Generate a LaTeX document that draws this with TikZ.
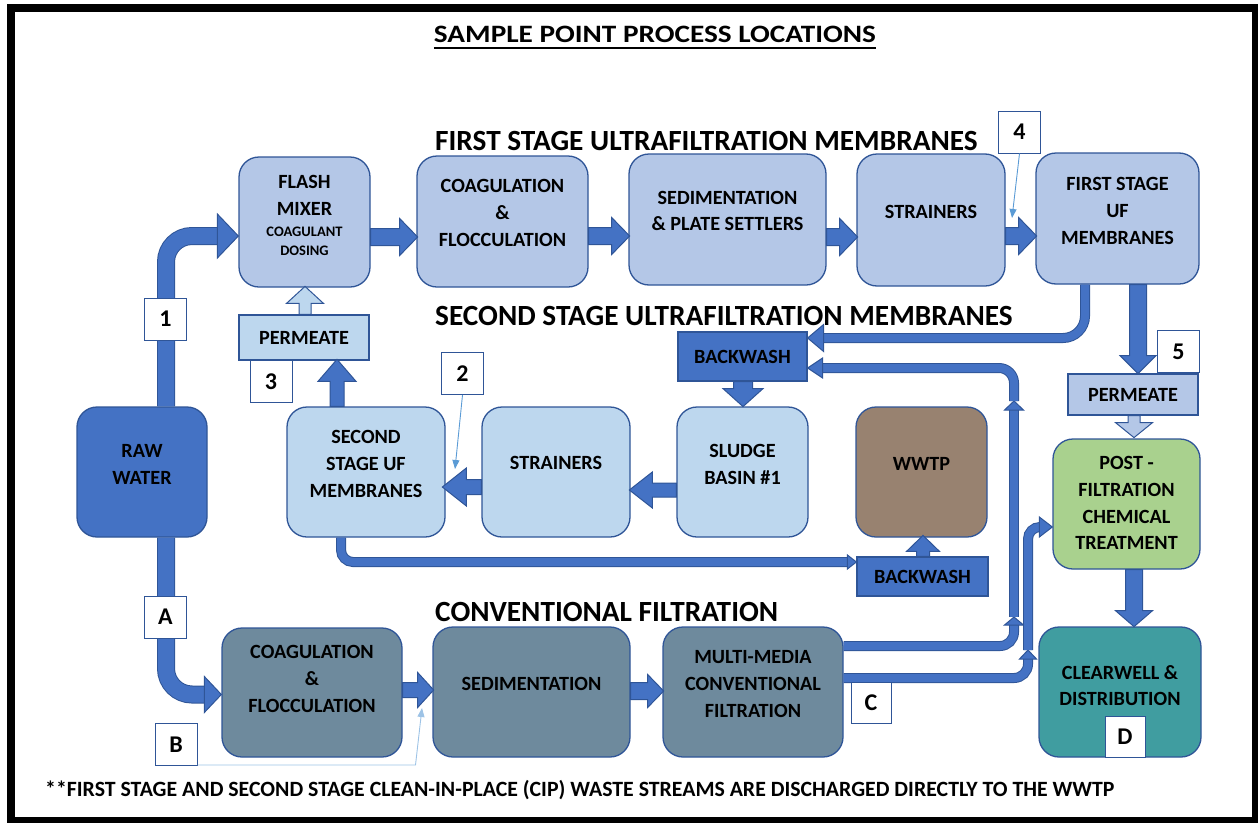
\documentclass[tikz,border=0pt]{standalone}
\usepackage{fontspec}
\setmainfont{Carlito}
\usetikzlibrary{arrows.meta}

\definecolor{edge}{HTML}{2F5597}
\definecolor{flow}{HTML}{4472C4}
\definecolor{ufone}{HTML}{B4C7E7}
\definecolor{uftwo}{HTML}{BDD7EE}
\definecolor{conv}{HTML}{6E8A9D}
\definecolor{waste}{HTML}{988270}
\definecolor{post}{HTML}{A9D18E}
\definecolor{clear}{HTML}{409DA0}
\definecolor{pointer}{HTML}{5B9BD5}

\tikzset{
  unit/.style={draw=edge, line width=1.3pt, rounded corners=20pt, minimum width=130pt, minimum height=130pt, inner sep=0pt},
  txt/.style={font=\bfseries\fontsize{20.2}{26.8}\selectfont, align=center, inner sep=0pt},
  small/.style={font=\bfseries\fontsize{14.5}{19}\selectfont, align=center, inner sep=0pt},
  head/.style={font=\bfseries\fontsize{29.3}{32}\selectfont, inner sep=0pt},
  tag/.style={draw=edge, line width=1pt, fill=white, minimum width=42pt, minimum height=42pt, inner sep=0pt, font=\bfseries\fontsize{24}{26}\selectfont},
  tank/.style={draw=edge, line width=1.2pt, inner sep=0pt, font=\bfseries\fontsize{20.2}{22}\selectfont},
  pipe/.style={draw=edge, line width=1pt, double=flow, double distance=#1},
  pipe/.default=8pt,
  pointer/.style={draw=pointer, line width=0.9pt, -{Triangle[length=9pt,width=7pt]}},
  blkfill/.style={fill=flow},
  % block arrow from its tail: length/shaft/head width/head length
  pics/blk/.style args={#1/#2/#3/#4}{code={
    \filldraw[draw=edge, line width=1pt, blkfill]
      (0,-#2/2) -- (#1-#4,-#2/2) -- (#1-#4,-#3/2) -- (#1,0) -- (#1-#4,#3/2) -- (#1-#4,#2/2) -- (0,#2/2) -- cycle;}},
  pics/tip/.style args={#1/#2}{code={\filldraw[draw=edge, fill=flow, line width=1pt] (0,0) -- (-#2,-#1/2) -- (-#2,#1/2) -- cycle;}},
}

\begin{document}
\begin{tikzpicture}[x=1pt, y=-1pt]
\useasboundingbox (0,0) rectangle (1258,822);
\draw[line width=8pt] (11,8) rectangle (1256,821);

% headings
\node[head, font=\bfseries\fontsize{25}{28}\selectfont] (title) at (655,34) {\scalebox{1.17}[1]{SAMPLE POINT PROCESS LOCATIONS}};
\draw[line width=2pt] ([yshift=-5.5pt]title.base west) -- ([yshift=-5.5pt]title.base east);
\node[head, anchor=west] (uf1-h) at (435,140.5) {FIRST STAGE ULTRAFILTRATION MEMBRANES};
\node[head, anchor=west] (uf2-h) at (435,315.5) {SECOND STAGE ULTRAFILTRATION MEMBRANES};
\node[head, anchor=west] (conv-h) at (435,612) {CONVENTIONAL FILTRATION};

% process units
\node[unit, fill=flow] (raw) at (142,472) {};
\node[unit, fill=ufone, minimum width=131pt] (fmix) at (304.5,222) {};
\node[unit, fill=ufone, minimum width=171pt, minimum height=131pt] (coag1) at (502.5,221.5) {};
\node[unit, fill=ufone, minimum width=197pt, minimum height=131pt] (sed1) at (727.5,219.5) {};
\node[unit, fill=ufone, minimum width=148pt, minimum height=132pt] (str1) at (931,220) {};
\node[unit, fill=ufone, minimum width=163pt, minimum height=131pt] (uf1) at (1117.5,218.5) {};
\node[unit, fill=uftwo, minimum width=158pt] (uf2) at (366,472) {};
\node[unit, fill=uftwo, minimum width=148pt] (str2) at (556,472) {};
\node[unit, fill=uftwo, minimum width=131pt] (sludge) at (742.5,472) {};
\node[unit, fill=waste, minimum width=131pt] (wwtp) at (921.5,472) {};
\node[unit, fill=post, minimum width=147pt] (post) at (1126.5,504) {};
\node[unit, fill=conv, minimum width=180pt, minimum height=129pt] (coag2) at (312,692.5) {};
\node[unit, fill=conv, minimum width=197pt] (sed2) at (531.5,692) {};
\node[unit, fill=conv, minimum width=180pt] (mmf) at (753,692) {};
\node[unit, fill=clear, minimum width=162pt] (clear) at (1120,692) {};

\node[txt] (raw-l) at ([yshift=7.5pt]raw.center) {RAW\\WATER};
\node[txt] (fmix-l) at ([yshift=27pt]fmix.center) {FLASH\\MIXER};
\node[small] (fmix-s) at ([yshift=-19.5pt]fmix.center) {COAGULANT\\DOSING};
\node[txt] (coag1-l) at ([yshift=8.5pt]coag1.center) {COAGULATION\\\&\\FLOCCULATION};
\node[txt] (sed1-l) at ([yshift=8.5pt]sed1.center) {SEDIMENTATION\\\& PLATE SETTLERS};
\node[txt] (str1-l) at ([yshift=8pt]str1.center) {STRAINERS};
\node[txt] (uf1-l) at ([yshift=7.5pt]uf1.center) {FIRST STAGE\\UF\\MEMBRANES};
\node[txt] (uf2-l) at ([yshift=8pt]uf2.center) {SECOND\\STAGE UF\\MEMBRANES};
\node[txt] (str2-l) at ([yshift=9pt]str2.center) {STRAINERS};
\node[txt] (sludge-l) at ([yshift=7.5pt]sludge.center) {SLUDGE\\BASIN \#1};
\node[txt] (wwtp-l) at ([yshift=8pt]wwtp.center) {WWTP};
\node[txt] (post-l) at ([yshift=1pt]post.center) {POST -\\FILTRATION\\CHEMICAL\\TREATMENT};
\node[txt] (coag2-l) at ([yshift=13.5pt]coag2.center) {COAGULATION\\\&\\FLOCCULATION};
\node[txt] (sed2-l) at ([yshift=8pt]sed2.center) {SEDIMENTATION};
\node[txt] (mmf-l) at ([yshift=8pt]mmf.center) {MULTI-MEDIA\\CONVENTIONAL\\FILTRATION};
\node[txt] (clear-l) at ([yshift=6.5pt]clear.center) {CLEARWELL \&\\DISTRIBUTION};

% tanks
\node[tank, fill=uftwo, minimum width=130pt, minimum height=45pt] (perm3) at (304,337.5) {PERMEATE};
\node[tank, fill=ufone, minimum width=130pt, minimum height=41pt] (perm5) at (1133,394.5) {PERMEATE};
\node[tank, fill=flow, minimum width=129pt, minimum height=49pt] (bw1) at (742.5,356.5) {BACKWASH};
\node[tank, fill=flow, minimum width=131pt, minimum height=39pt] (bw2) at (922.5,576.5) {BACKWASH};

% block arrows
\pic at ([yshift=-15pt]fmix.east) {blk=47/17/37/18};
\pic at ([yshift=-14.5pt]coag1.east) {blk=41/17/37/18};
\pic at ([yshift=-17.5pt]sed1.east) {blk=31/17/37/18};
\pic at ([yshift=-16pt]str1.east) {blk=31/17/37/18};
\pic[rotate=-90] at ([xshift=20.5pt]uf1.south) {blk=89/17/36/18};
\pic[rotate=180] at ([yshift=-18pt]sludge.west) {blk=47/14/36/23};
\pic[rotate=180] at ([yshift=-15pt]str2.west) {blk=39/15/38/24};
\pic[rotate=90] at ([xshift=-29pt]uf2.north) {blk=47/14/38/22};
\pic[rotate=90, blkfill/.style={fill=uftwo}] at ([xshift=1pt]perm3.north) {blk=28/12/37/17};
\pic[rotate=-90] at ([xshift=0.5pt]bw1.south) {blk=25/19/40/18};
\pic[rotate=90] at ([xshift=0.5pt]bw2.north) {blk=21/13/33/16};
\pic[rotate=-90, blkfill/.style={fill=ufone}] at ([xshift=1pt]perm5.south) {blk=22/12/37/15};
\pic[rotate=-90] at ([xshift=7.5pt]post.south) {blk=57/17/37/16};
\pic at ([yshift=2.5pt]coag2.east) {blk=31/15/35/16};
\pic at ([yshift=1pt]sed2.east) {blk=33/17/33/16};

% pipes
\coordinate (j1) at (1014,617);
\coordinate (j2) at (1014,401);
\coordinate (j3) at (1028,650);

\draw[pipe=16pt, rounded corners=26pt] ([xshift=24pt]raw.north) |- ([xshift=-21pt,yshift=-14pt]fmix.west);
\pic at ([yshift=-14pt]fmix.west) {tip=44/21};
\draw[pipe=16pt, rounded corners=26pt] ([xshift=24pt]raw.south) |- ([xshift=-17pt,yshift=-2pt]coag2.west);
\pic at ([yshift=-2pt]coag2.west) {tip=36/17};

\draw[pipe, rounded corners=22pt] ([xshift=-32.5pt]uf1.south) |- ([xshift=16pt,yshift=18.5pt]bw1.east);
\pic[rotate=180] at ([yshift=18.5pt]bw1.east) {tip=27/16};

\draw[pipe, rounded corners=14pt] ([yshift=46pt]mmf.east) -| ([yshift=-8pt]j1);
\pic[rotate=90] at (j1) {tip=19/8};
\draw[pipe] (j1) -- ([yshift=-9pt]j2);
\pic[rotate=90] at (j2) {tip=19/9};
\draw[pipe, rounded corners=15pt] (j2) |- ([xshift=15pt,yshift=-11.5pt]bw1.east);
\pic[rotate=180] at ([yshift=-11.5pt]bw1.east) {tip=20/15};

\draw[pipe, rounded corners=14pt] ([yshift=14pt]mmf.east) -| ([yshift=-9pt]j3);
\pic[rotate=90] at (j3) {tip=17/9};
\draw[pipe, rounded corners=12pt] (j3) |- ([xshift=-13pt,yshift=-23pt]post.west);
\pic at ([yshift=-23pt]post.west) {tip=20/13};

\draw[pipe, rounded corners=12pt] ([xshift=-25pt]uf2.south) |- ([xshift=-9pt,yshift=14.5pt]bw2.west);
\pic at ([yshift=14.5pt]bw2.west) {tip=14/9};

% sample points
\node[tag] (t1) at (165.5,319) {1};
\node[tag] (t2) at (462.5,373.5) {2};
\node[tag] (t3) at (271,381.5) {3};
\node[tag] (t4) at (1019.5,132) {4};
\node[tag] (t5) at (1178.5,351.5) {5};
\node[tag] (tA) at (165.5,617) {A};
\node[tag] (tB) at (176,744.5) {B};
\node[tag, minimum width=40pt, minimum height=41pt] (tC) at (871,702.5) {C};
\node[tag, minimum width=40pt, minimum height=41pt] (tD) at (1125,736.5) {D};

\coordinate (p2) at (455,469);
\coordinate (p4) at (1012,218);
\coordinate (pB) at (422,708);
\draw[pointer] (t2.south) -- (p2);
\draw[pointer] (t4.south) -- (p4);
\draw[pointer, draw=pointer!60] ([yshift=1pt]tB.south east) -- ++(218,0) -- (pB);

\node[anchor=west, font=\bfseries\fontsize{21.8}{24}\selectfont, inner sep=0pt] (note) at (45,790)
  {**FIRST STAGE AND SECOND STAGE CLEAN-IN-PLACE (CIP) WASTE STREAMS ARE DISCHARGED DIRECTLY TO THE WWTP};
\end{tikzpicture}
\end{document}
